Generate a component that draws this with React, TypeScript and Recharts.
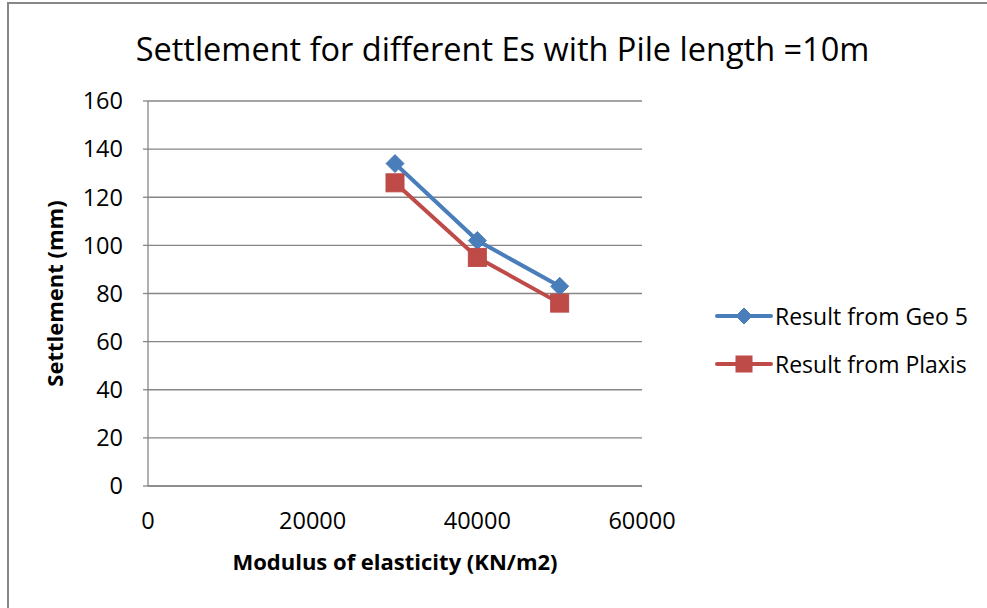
import { LineChart, Line, XAxis, YAxis, CartesianGrid } from "recharts";

// Modulus of elasticity (KN/m2) and settlement (mm) for a 10 m pile
const esValues = [30000, 40000, 50000];
const geo5Settlement = [134, 102, 83];
const plaxisSettlement = [126, 95, 76];

const xTicks = [0, 20000, 40000, 60000];
const yTicks = [0, 20, 40, 60, 80, 100, 120, 140, 160];

const seriesNames = ["Result from Geo 5", "Result from Plaxis"];
const BLUE = "#4a7ebb";
const RED = "#be4b48";
const GRID = "#868686";
const FONT = "'Open Sans', sans-serif";

const data = esValues.map((es, i) => ({
  es,
  geo5: geo5Settlement[i],
  plaxis: plaxisSettlement[i],
}));

const Diamond = ({ cx, cy, color = BLUE, r = 9 }: any) => (
  <path
    d={`M${cx},${cy - r} L${cx + r},${cy} L${cx},${cy + r} L${cx - r},${cy} Z`}
    fill={color}
    stroke={color}
    strokeWidth={1}
  />
);

const Square = ({ cx, cy, color = RED, s = 18 }: any) => (
  <rect x={cx - s / 2} y={cy - s / 2} width={s} height={s} fill={color} stroke={color} strokeWidth={1} />
);

function LegendRow({ label, color, kind, top }: { label: string; color: string; kind: "diamond" | "square"; top: number }) {
  return (
    <div style={{ position: "absolute", left: 714, top: top - 16, height: 32, display: "flex", alignItems: "center" }}>
      <svg width={60} height={32}>
        <line x1={3} y1={16} x2={57} y2={16} stroke={color} strokeWidth={4} strokeLinecap="round" />
        {kind === "diamond" ? <Diamond cx={30} cy={16} color={color} r={8} /> : <Square cx={30} cy={16} color={color} s={16} />}
      </svg>
      <span style={{ fontFamily: FONT, fontSize: 23, color: "#000", marginLeft: 1, whiteSpace: "nowrap" }}>{label}</span>
    </div>
  );
}

export default function App() {
  return (
    <div style={{ position: "absolute", left: 0, top: 0, width: 987, height: 608, background: "#fff", overflow: "hidden" }}>
      {/* chart frame */}
      <div
        style={{
          position: "absolute",
          left: 7,
          top: 2,
          width: 1000,
          height: 620,
          borderLeft: "2px solid #878787",
          borderTop: "2px solid #878787",
        }}
      />
      <div
        style={{
          position: "absolute",
          left: 0,
          width: 987,
          top: 26,
          textAlign: "center",
          paddingLeft: 18,
          boxSizing: "border-box",
          fontFamily: FONT,
          fontSize: 32.5,
          color: "#000",
          whiteSpace: "nowrap",
        }}
      >
        Settlement for different Es with Pile length =10m
      </div>
      <div style={{ position: "absolute", left: 0, top: 0 }}>
        <LineChart width={987} height={608} data={data} margin={{ top: 101, right: 345, bottom: 0, left: 0 }}>
          <CartesianGrid horizontal vertical={false} stroke={GRID} strokeWidth={1.3} />
          <XAxis
            dataKey="es"
            type="number"
            domain={[0, 60000]}
            ticks={xTicks}
            interval={0}
            axisLine={{ stroke: GRID, strokeWidth: 1.3 }}
            tickLine={false}
            tickSize={0}
            tickMargin={26}
            tick={{ fill: "#000", fontSize: 23.5, fontFamily: FONT }}
            height={122}
            label={{
              value: "Modulus of elasticity (KN/m2)",
              position: "insideTop",
              offset: 68,
              style: { fontFamily: FONT, fontSize: 22, fontWeight: 700, fill: "#000" },
            }}
          />
          <YAxis
            type="number"
            domain={[0, 160]}
            ticks={yTicks}
            interval={0}
            width={148}
            axisLine={{ stroke: GRID, strokeWidth: 1.3 }}
            tickLine={{ stroke: GRID, strokeWidth: 1.3 }}
            tickSize={5}
            tickMargin={20}
            tick={{ fill: "#000", fontSize: 23.5, fontFamily: FONT }}
            label={{
              value: "Settlement (mm)",
              angle: -90,
              position: "insideLeft",
              offset: 55,
              style: { fontFamily: FONT, fontSize: 22, fontWeight: 700, fill: "#000", textAnchor: "middle" },
            }}
          />
          <Line
            type="linear"
            dataKey="geo5"
            name={seriesNames[0]}
            stroke={BLUE}
            strokeWidth={4}
            strokeLinejoin="round"
            dot={(p: any) => <Diamond key={`g${p.index}`} cx={p.cx} cy={p.cy} />}
            activeDot={false}
            isAnimationActive={false}
          />
          <Line
            type="linear"
            dataKey="plaxis"
            name={seriesNames[1]}
            stroke={RED}
            strokeWidth={4}
            strokeLinejoin="round"
            dot={(p: any) => <Square key={`p${p.index}`} cx={p.cx} cy={p.cy} />}
            activeDot={false}
            isAnimationActive={false}
          />
        </LineChart>
      </div>
      <LegendRow label={seriesNames[0]} color={BLUE} kind="diamond" top={316} />
      <LegendRow label={seriesNames[1]} color={RED} kind="square" top={364} />
    </div>
  );
}
